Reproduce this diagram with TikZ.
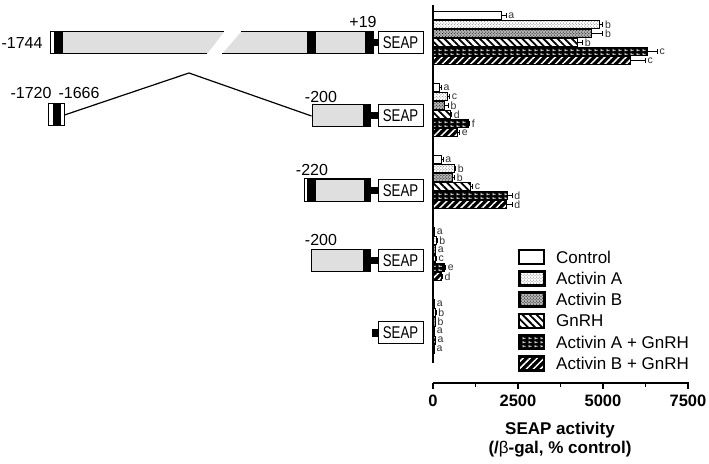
\documentclass[tikz,border=0pt]{standalone}
\usepackage{fontspec}
\setmainfont{Liberation Sans}
\newfontfamily\seapfont[FakeStretch=0.78]{Liberation Sans}
\usepackage{tikz}
\usetikzlibrary{patterns,patterns.meta}

\pgfdeclarepatternformonly{dashmarks}{\pgfpointorigin}{\pgfpoint{6bp}{4bp}}{\pgfpoint{6bp}{4bp}}{
  \pgfpathrectangle{\pgfpoint{0.6bp}{1.6bp}}{\pgfpoint{3.6bp}{0.9bp}}
  \pgfpathrectangle{\pgfpoint{0.6bp}{0.6bp}}{\pgfpoint{0.9bp}{2.9bp}}
  \pgfusepath{fill}
}

\begin{document}
\begin{tikzpicture}[x=1bp,y=-1bp]
\tikzstyle{seap} = [draw, line width=1bp, fill=white, minimum width=45bp, minimum height=22bp, inner sep=0pt, font=\seapfont\fontsize{17bp}{20bp}\selectfont]
\tikzstyle{body} = [draw, line width=1bp, fill=gray!25, minimum height=22bp, inner sep=0pt]
\tikzstyle{poslabel} = [font=\fontsize{16bp}{19bp}\selectfont, inner sep=0pt]
\tikzstyle{sig} = [font=\fontsize{10.5bp}{12bp}\selectfont, inner sep=0pt, anchor=west, xshift=2bp, text=black!80]
\tikzstyle{legtext} = [font=\fontsize{17bp}{20bp}\selectfont, inner sep=0pt, anchor=west]
\tikzstyle{ticklabel} = [font=\bfseries\fontsize{16.5bp}{19bp}\selectfont, inner sep=0pt]
\tikzstyle{axtitle} = [font=\bfseries\fontsize{17bp}{20bp}\selectfont, inner sep=0pt]
%\tikzstyle{ctrl} = [draw]
\tikzstyle{ctrl} = [draw, fill=white]
\tikzstyle{acta} = [draw, pattern=crosshatch dots, pattern color=black!60]
\tikzstyle{actb} = [draw, preaction={fill=black!30}, pattern=crosshatch dots, pattern color=black]
\tikzstyle{gnrh} = [draw, pattern={Lines[angle=-45,distance=5bp,line width=1.8bp]}]
\tikzstyle{actag} = [draw, preaction={fill=black}, pattern=dashmarks, pattern color=white]
\tikzstyle{actbg} = [draw, preaction={fill=black}, pattern={Lines[angle=45,distance=5bp,line width=1.5bp]}, pattern color=white]
\useasboundingbox (0,0) rectangle (709,464);

% constructs
\fill[gray!25] (63,32) -- (224,32) -- (207,54) -- (63,54) -- cycle;
\fill (54,32) rectangle (63,54);
\draw[line width=1bp] (224,32) -- (50,32) -- (50,54) -- (207,54);
\fill[gray!25] (241,32) -- (373,32) -- (373,54) -- (222,54) -- cycle;
\fill (307,32) rectangle (316,54);
\fill (365,32) rectangle (373,54);
\draw[line width=1bp] (241,32) -- (373,32) -- (373,54) -- (222,54);
\coordinate (e1) at (373,43);

\node[body, minimum width=58bp] (p2) at (341,116) {};
\fill ([xshift=-8bp]p2.north east) rectangle (p2.south east);
\node[draw, line width=1bp, minimum width=16bp, minimum height=22bp, inner sep=0pt] (ex2) at (56,115) {};
\fill (53,104) rectangle (61,126);
\coordinate (apex) at (189,73);
\draw[line width=1.2bp] (ex2.east) -- (apex) -- (p2.west);

\node[body, minimum width=65bp] (p3) at (337.5,190.5) {};
\fill[white] (p3.north west) rectangle ([xshift=2bp]p3.south west);
\fill ([xshift=2bp]p3.north west) rectangle ([xshift=11bp]p3.south west);
\fill ([xshift=-7bp]p3.north east) rectangle (p3.south east);
\draw[line width=1bp] (p3.north west) rectangle (p3.south east);

\node[body, minimum width=59bp] (p4) at (340.5,261) {};
\fill ([xshift=-8bp]p4.north east) rectangle (p4.south east);
\coordinate (e5) at (372,332.5);

\node[seap] (s1) at (400.5,43) {SEAP};
\node[seap] (s2) at (400.5,116) {SEAP};
\node[seap] (s3) at (400.5,190.5) {SEAP};
\node[seap] (s4) at (400.5,261) {SEAP};
\node[seap] (s5) at (400.5,332.5) {SEAP};
\fill ([yshift=3.5bp]e1) rectangle ([yshift=-3.5bp]s1.west);
\fill ([yshift=3.5bp]p2.east) rectangle ([yshift=-3.5bp]s2.west);
\fill ([yshift=3.5bp]p3.east) rectangle ([yshift=-3.5bp]s3.west);
\fill ([yshift=3.5bp]p4.east) rectangle ([yshift=-3.5bp]s4.west);
\fill ([yshift=4bp]e5) rectangle ([yshift=-4bp]s5.west);

\node[poslabel] (n1744) at (22,43) {-1744};
\node[poslabel] (p19) at (363,22) {+19};
\node[poslabel] (n1720) at (31,93) {-1720};
\node[poslabel] (n1666) at (79,93) {-1666};
\node[poslabel] (n200a) at (321,97) {-200};
\node[poslabel] (n220) at (312,170) {-220};
\node[poslabel] (n200b) at (321,240) {-200};

% bars
\foreach \g/\data in {
    0/{2000/150/a/ctrl,4900/100/b/acta,4650/350/b/actb,4250/150/b/gnrh,6300/300/c/actag,5800/450/c/actbg},
    1/{200/50/a/ctrl,440/50/c/acta,350/100/b/actb,500/50/d/gnrh,1030/50/f/actag,735/50/e/actbg},
    2/{250/50/a/ctrl,620/50/b/acta,560/80/b/actb,1090/80/c/gnrh,2180/150/d/actag,2150/180/d/actbg},
    3/{30/20/a/ctrl,100/20/b/acta,60/20/a/actb,80/20/c/gnrh,330/40/e/actag,250/30/d/actbg},
    4/{40/10/a/ctrl,80/10/b/acta,60/10/b/actb,40/10/a/gnrh,60/10/a/actag,30/10/a/actbg}}{
    \foreach \v/\e/\l/\s [count=\i from 0] in \data {
        \pgfmathsetmacro\yt{12+72*\g+9*\i}
        \pgfmathsetmacro\xe{433+0.034*\v}
        \pgfmathsetmacro\xr{\xe+0.034*\e}
        \draw[\s, line width=1bp] (433,\yt) rectangle (\xe,\yt+8);
        \draw[line width=1bp] (\xe,\yt+4) -- (\xr,\yt+4) (\xr,\yt+1.5) -- (\xr,\yt+6.5);
        \node[sig] (sig\g\i) at (\xr,\yt+4) {\l};
    }
}

% axes
\draw[line width=1.8bp] (433,5) -- (433,363);
\draw[line width=1.8bp] (433,383) -- (689,383);
\foreach \v in {0,2500,5000,7500}{
    \draw[line width=1.8bp] (433+0.034*\v,383) -- ++(0,6);
    \node[ticklabel] (tick\v) at (433+0.034*\v,401) {\v};
}
\foreach \v in {1250,3750,6250}
    \draw[line width=1.5bp] (433+0.034*\v,383) -- ++(0,4);
\node[axtitle] (xt1) at (560,430) {SEAP activity};
\node[axtitle] (xt2) at (560,449) {(/{\mdseries β}-gal, \% control)};

% legend
\foreach \s/\t/\w [count=\i from 0] in {ctrl/Control/1.8,acta/Activin A/3,actb/Activin B/3,gnrh/GnRH/1.8,actag/Activin A + GnRH/2.5,actbg/Activin B + GnRH/2.5}{
    \pgfmathsetmacro\yc{257+21.3*\i}
    \draw[\s, line width=\w bp] (519,\yc-7) rectangle (544,\yc+7);
    \node[legtext] (leg\i) at (556,\yc) {\t};
}
\end{tikzpicture}
\end{document}
